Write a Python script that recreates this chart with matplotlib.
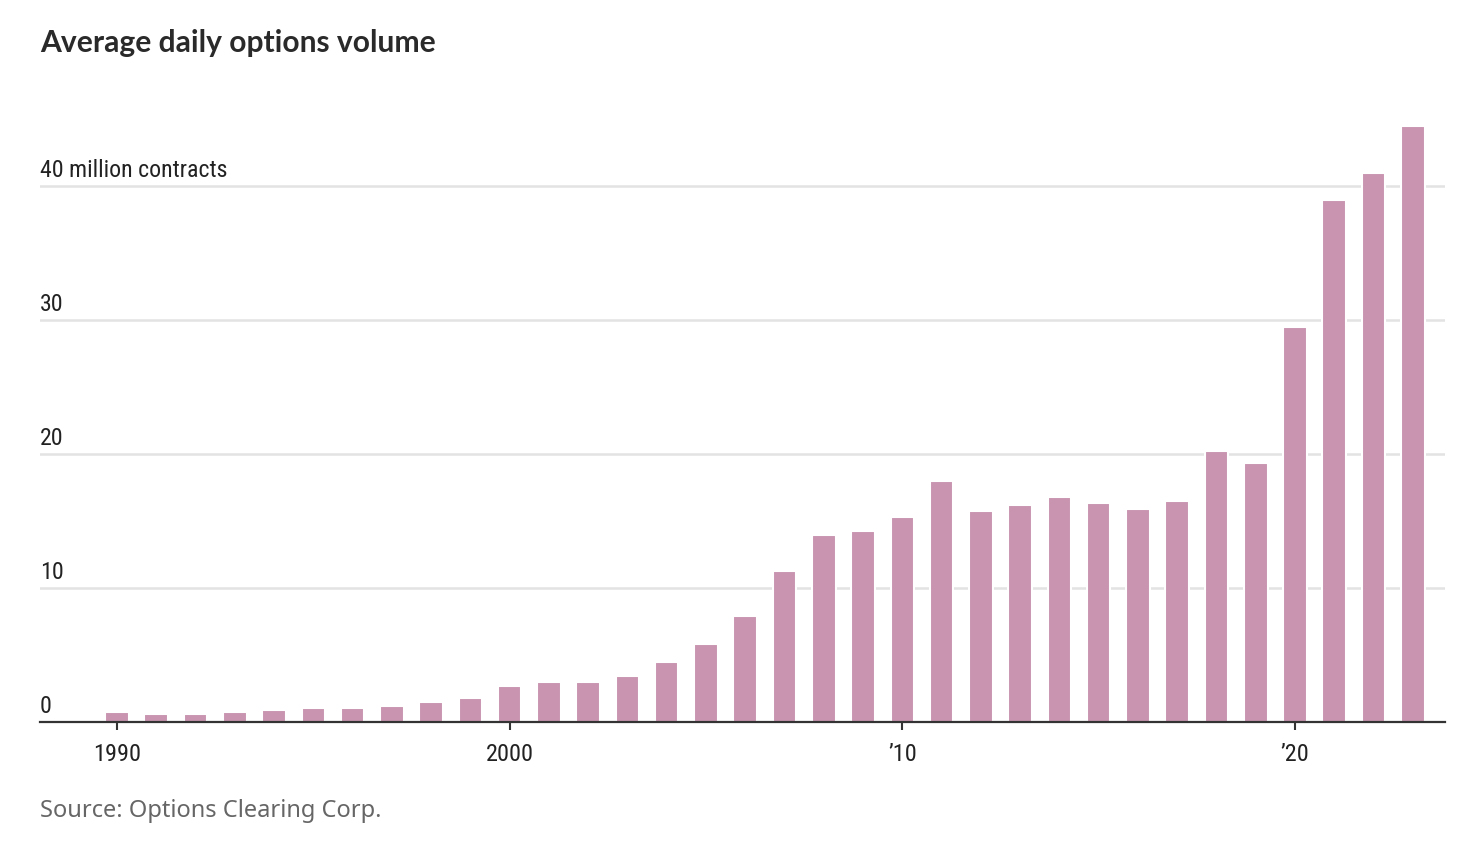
import matplotlib
matplotlib.use("Agg")
import matplotlib.pyplot as plt
from matplotlib import font_manager
import matplotlib.transforms as mtransforms

years = list(range(1990, 2024))
volume = [0.75, 0.6, 0.6, 0.75, 0.9, 1.07, 1.07, 1.22, 1.52, 1.82,
          2.72, 3.02, 3.02, 3.47, 4.51, 5.85, 7.94, 11.25, 13.96, 14.25,
          15.33, 18.03, 15.78, 16.23, 16.83, 16.38, 15.93, 16.53, 20.27, 19.37,
          29.5, 39.0, 41.0, 44.5]
xtick_pos = [1990, 2000, 2010, 2020]
xtick_labels = ["1990", "2000", "\u201910", "\u201920"]
ytick_pos = [0, 10, 20, 30, 40]
ytick_labels = ["0", "10", "20", "30", "40 million contracts"]
title = "Average daily options volume"
source = "Source: Options Clearing Corp."


def pick(cands):
    for c in cands:
        try:
            font_manager.findfont(font_manager.FontProperties(family=c), fallback_to_default=False)
            return c
        except Exception:
            pass
    return "DejaVu Sans"

narrow = pick(["Liberation Sans Narrow", "Roboto Condensed", "Open Sans Condensed", "Noto Sans", "DejaVu Sans"])
boldf = pick(["Lato", "Roboto", "Noto Sans", "DejaVu Sans"])
srcf = pick(["Noto Sans", "Open Sans", "DejaVu Sans"])

W, H = 1471, 843
fig = plt.figure(figsize=(W / 100, H / 100), dpi=100)
left, right = 40 / W, 1445 / W
bottom, top = (H - 722) / H, (H - 106) / H
ax = fig.add_axes([left, bottom, right - left, top - bottom])

ax.bar(years, volume, width=0.6, color="#c994b0", edgecolor="white", linewidth=1.5, zorder=3)

ax.set_xlim(1988.04, 2023.82)
ax.set_ylim(0, 46)

for s in ["top", "right", "left"]:
    ax.spines[s].set_visible(False)
ax.spines["bottom"].set_color("#333333")
ax.spines["bottom"].set_linewidth(1.6)
ax.spines["bottom"].set_zorder(5)

ax.set_yticks(ytick_pos)
ax.set_yticklabels([])
ax.tick_params(axis="y", length=0)
ax.yaxis.grid(True, color="#e3e3e3", linewidth=1.8, zorder=0)
ax.set_axisbelow(True)

ax.set_xticks(xtick_pos)
ax.set_xticklabels(xtick_labels, fontsize=17.5, family=narrow, color="#222222")
ax.tick_params(axis="x", direction="out", length=6, width=1.5, color="#333333", pad=9)

trans = mtransforms.blended_transform_factory(ax.transAxes, ax.transData)
off = mtransforms.offset_copy(trans, fig=fig, x=0, y=4, units="dots")
for v, lab in zip(ytick_pos, ytick_labels):
    ax.text(0, v, lab, transform=off, ha="left", va="bottom",
            fontsize=17.2, family=narrow, color="#222222")

fig.text(40 / W, 1 - 52 / H, title, fontsize=21.6, fontweight="bold", family=boldf,
         color="#2a2a2a", ha="left", va="baseline")
fig.text(40 / W, 1 - 817 / H, source, fontsize=17, family=srcf,
         color="#666666", ha="left", va="baseline")

fig.savefig("out.png", dpi=100)
